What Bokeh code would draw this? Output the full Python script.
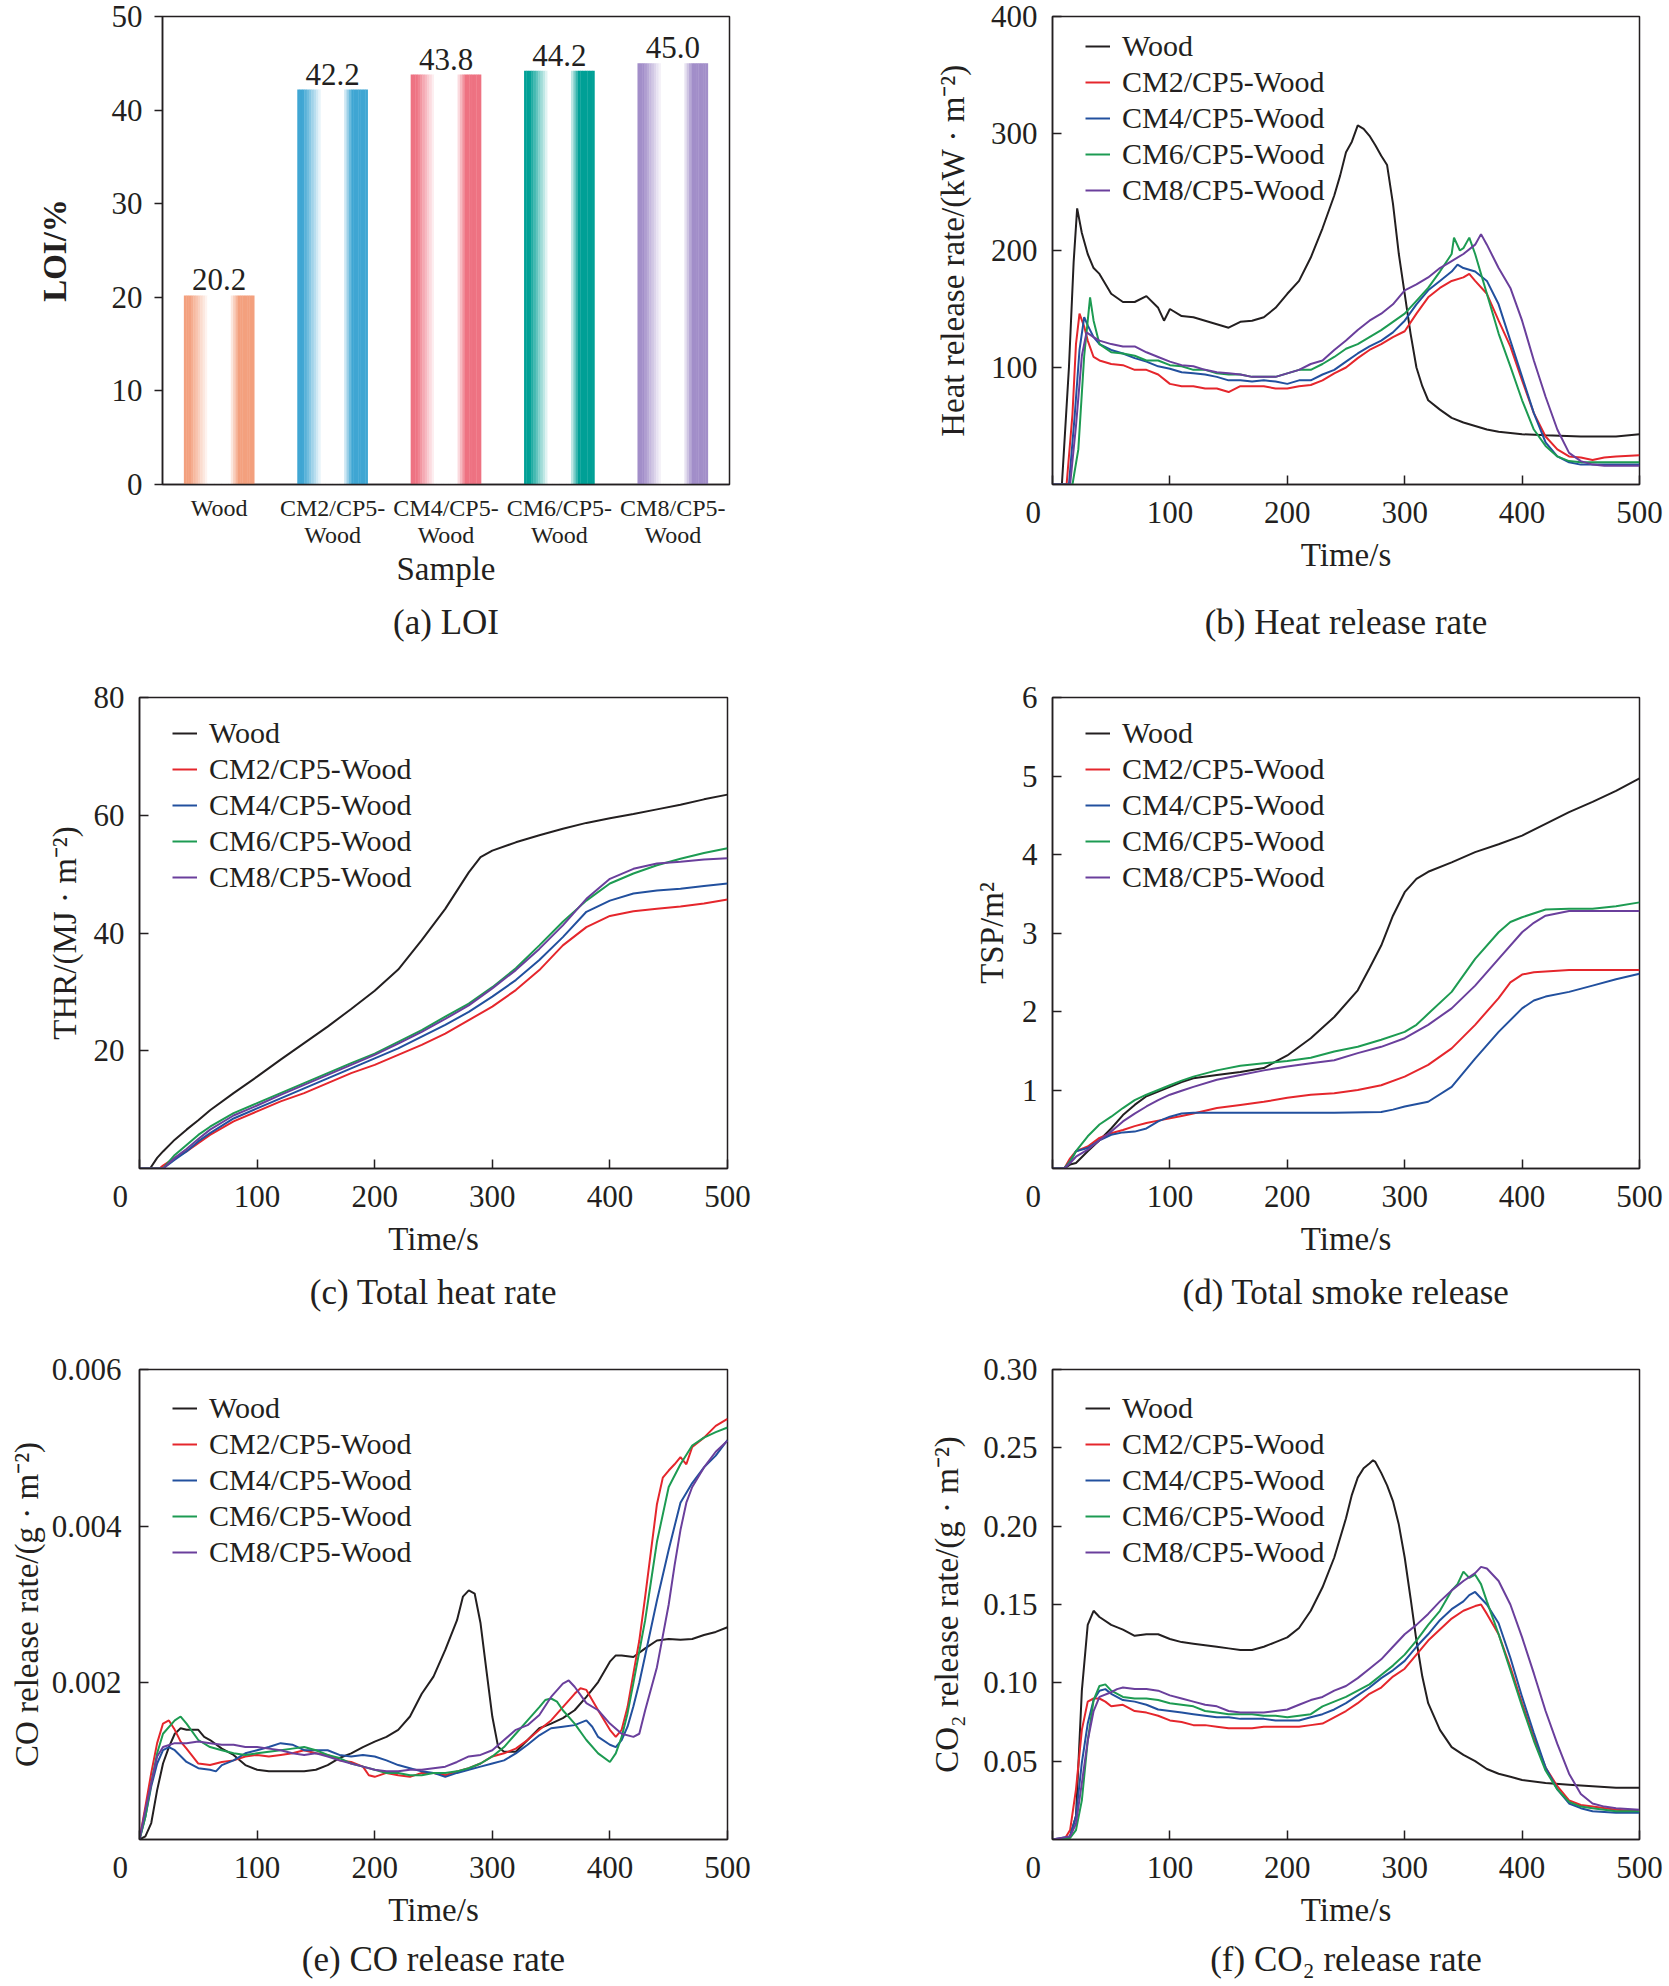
from bokeh.plotting import figure
from bokeh.models import (ColumnDataSource, FactorRange, Range1d, FixedTicker, LinearAxis,
                          NumeralTickFormatter, Legend, LegendItem)
from bokeh.transform import dodge
from bokeh.layouts import row, column
from bokeh.embed import file_html
from bokeh.resources import INLINE
from bokeh.core.properties import value

FONT = "Liberation Serif"
INK = "#231f20"

# ---------------- data ----------------
SAMPLES = ["Wood", "CM2/CP5-\nWood", "CM4/CP5-\nWood", "CM6/CP5-\nWood", "CM8/CP5-\nWood"]
LOI = [20.2, 42.2, 43.8, 44.2, 45.0]
BAR_COLORS = ["#f3a07e", "#3fa6d3", "#ee7282", "#00a096", "#a28ec9"]

SERIES_NAMES = ["Wood", "CM2/CP5-Wood", "CM4/CP5-Wood", "CM6/CP5-Wood", "CM8/CP5-Wood"]
LINE_COLORS = ["#231f20", "#e5262c", "#22509e", "#1d9b52", "#6a3f9c"]
TIME_TICKS = [0, 100, 200, 300, 400, 500]

# (b) heat release rate, (time s, kW/m2)
HRR_WOOD = [(0,0),(8,0),(14,100),(18,190),(21,236),(25,215),(30,197),(35,185),(40,180),(50,163),(60,156),(70,156),(80,161),(90,151),(95,140),(100,150),(110,144),(120,143),(130,140),(140,137),(150,134),(160,139),(170,140),(180,143),(190,151),(200,163),(210,174),(220,194),(230,219),(240,247),(245,264),(250,284),(255,293),(260,307),(265,304),(270,298),(275,290),(280,281),(285,273),(290,240),(295,197),(300,163),(305,129),(310,100),(315,84),(320,72),(330,64),(340,57),(350,53),(360,50),(370,47),(380,45),(390,44),(400,43),(420,42),(450,41),(480,41),(500,43)]
HRR_CM2 = [(0,0),(12,0),(17,60),(20,120),(23,146),(27,135),(30,123),(35,109),(40,106),(50,103),(60,102),(70,98),(80,98),(90,94),(100,86),(110,84),(120,84),(130,82),(140,82),(150,79),(160,84),(170,84),(180,84),(190,82),(200,82),(210,84),(220,85),(230,89),(240,95),(250,100),(260,108),(270,115),(280,120),(290,126),(300,131),(310,146),(320,160),(330,168),(340,174),(350,177),(355,180),(360,174),(370,163),(380,140),(390,118),(400,89),(410,61),(420,41),(430,30),(440,24),(450,23),(460,21),(470,23),(480,24),(500,25)]
HRR_CM4 = [(0,0),(14,0),(19,60),(23,115),(27,143),(30,136),(35,126),(40,120),(50,115),(60,112),(70,108),(80,105),(90,101),(100,99),(110,96),(120,95),(130,94),(140,92),(150,89),(160,89),(170,88),(180,89),(190,88),(200,86),(210,89),(220,89),(230,94),(240,98),(250,105),(260,112),(270,118),(280,123),(290,130),(300,140),(310,154),(320,166),(330,174),(340,182),(345,188),(350,185),(360,182),(370,174),(380,154),(390,123),(400,92),(410,61),(420,36),(430,24),(440,19),(450,17),(500,17)]
HRR_CM6 = [(0,0),(17,0),(22,30),(27,110),(32,160),(35,140),(40,120),(50,113),(60,112),(70,110),(80,106),(90,106),(100,102),(110,101),(120,98),(130,98),(140,95),(150,94),(160,94),(170,92),(180,92),(190,92),(200,95),(210,98),(220,98),(230,103),(240,109),(250,116),(260,120),(270,126),(280,132),(290,139),(300,146),(310,157),(320,168),(330,182),(340,197),(342,211),(347,200),(350,202),(355,211),(360,197),(370,163),(380,129),(390,101),(400,72),(410,47),(420,33),(430,24),(440,20),(450,19),(500,19)]
HRR_CM8 = [(0,0),(15,0),(20,50),(25,110),(29,130),(35,126),(40,123),(50,120),(60,118),(70,118),(80,113),(90,109),(100,105),(110,102),(120,101),(130,98),(140,96),(150,95),(160,94),(170,92),(180,92),(190,92),(200,95),(210,98),(220,103),(230,106),(240,115),(250,123),(260,132),(270,140),(280,146),(290,154),(300,166),(310,171),(320,177),(330,185),(340,191),(350,197),(360,205),(365,214),(370,205),(380,185),(390,168),(400,140),(410,106),(420,75),(430,47),(440,27),(450,20),(460,17),(470,16),(500,16)]

# (c) total heat release, MJ/m2
THR_WOOD = [(0,0),(9,0),(15,1.8),(20,2.9),(30,4.9),(40,6.6),(50,8.2),(60,9.9),(80,12.8),(100,15.6),(120,18.5),(140,21.3),(160,24.1),(180,27.1),(200,30.2),(220,33.8),(240,38.8),(260,44.1),(280,50.3),(290,52.9),(300,54.0),(320,55.4),(340,56.6),(360,57.7),(380,58.7),(400,59.5),(420,60.2),(440,61.0),(460,61.8),(480,62.7),(500,63.5)]
THR_CM2 = [(0,0),(17,0),(20,0.5),(30,1.8),(40,2.9),(50,4.3),(60,5.7),(80,8.0),(100,9.7),(120,11.4),(140,12.8),(160,14.5),(180,16.2),(200,17.6),(220,19.3),(240,21.0),(260,22.9),(280,25.2),(300,27.5),(320,30.3),(340,33.7),(360,37.9),(380,41.0),(400,42.9),(420,43.7),(440,44.1),(460,44.5),(480,45.0),(500,45.7)]
THR_CM4 = [(0,0),(20,0),(30,1.5),(40,2.9),(50,4.6),(60,6.0),(80,8.5),(100,10.2),(120,11.9),(140,13.6),(160,15.3),(180,17.0),(200,18.7),(220,20.4),(240,22.4),(260,24.4),(280,26.6),(300,29.2),(320,32.0),(340,35.4),(360,39.3),(380,43.6),(400,45.5),(420,46.7),(440,47.2),(460,47.5),(480,48.0),(500,48.4)]
THR_CM6 = [(0,0),(20,0),(30,2.3),(40,4.0),(50,5.7),(60,7.1),(80,9.4),(100,11.1),(120,12.8),(140,14.5),(160,16.2),(180,17.9),(200,19.5),(220,21.5),(240,23.5),(260,25.8),(280,28.0),(300,30.8),(320,34.0),(340,37.9),(360,41.9),(380,45.5),(400,48.4),(420,50.1),(440,51.5),(460,52.6),(480,53.6),(500,54.4)]
THR_CM8 = [(0,0),(20,0),(30,1.8),(40,3.3),(50,5.0),(60,6.6),(80,9.0),(100,10.7),(120,12.5),(140,14.2),(160,15.9),(180,17.6),(200,19.3),(220,21.2),(240,23.2),(260,25.4),(280,27.7),(300,30.6),(320,33.7),(340,37.3),(360,41.3),(380,45.8),(400,49.2),(420,50.9),(440,51.8),(460,52.1),(480,52.5),(500,52.7)]

# (d) total smoke production, m2
TSP_WOOD = [(0,0),(10,0),(15,0.05),(20,0.07),(30,0.22),(40,0.36),(50,0.51),(60,0.68),(70,0.81),(80,0.92),(90,0.98),(100,1.04),(110,1.10),(120,1.15),(140,1.19),(160,1.23),(180,1.28),(200,1.44),(220,1.66),(240,1.93),(260,2.27),(270,2.55),(280,2.84),(290,3.22),(300,3.52),(310,3.69),(320,3.78),(340,3.90),(360,4.03),(380,4.13),(400,4.24),(420,4.39),(440,4.54),(460,4.67),(480,4.81),(500,4.97)]
TSP_CM2 = [(0,0),(10,0),(15,0.13),(20,0.22),(30,0.28),(40,0.39),(50,0.45),(60,0.49),(70,0.54),(80,0.58),(90,0.61),(100,0.64),(110,0.67),(120,0.70),(140,0.77),(160,0.81),(180,0.85),(200,0.90),(220,0.94),(240,0.96),(260,1.00),(280,1.06),(300,1.17),(320,1.32),(340,1.53),(360,1.83),(380,2.17),(390,2.37),(400,2.47),(410,2.50),(420,2.51),(440,2.53),(460,2.53),(480,2.53),(500,2.53)]
TSP_CM4 = [(0,0),(10,0),(15,0.09),(20,0.22),(30,0.26),(40,0.36),(50,0.43),(60,0.46),(70,0.47),(80,0.51),(90,0.60),(100,0.66),(110,0.70),(120,0.71),(160,0.71),(200,0.71),(240,0.71),(280,0.72),(290,0.75),(300,0.79),(320,0.85),(340,1.04),(360,1.40),(380,1.74),(400,2.04),(410,2.14),(420,2.19),(440,2.25),(460,2.33),(480,2.41),(500,2.48)]
TSP_CM6 = [(0,0),(10,0),(15,0.09),(20,0.22),(30,0.41),(40,0.56),(50,0.66),(60,0.77),(70,0.87),(80,0.94),(90,1.00),(100,1.06),(110,1.12),(120,1.17),(140,1.25),(160,1.31),(180,1.34),(200,1.37),(220,1.41),(240,1.49),(260,1.55),(280,1.64),(300,1.74),(310,1.83),(320,1.97),(340,2.25),(360,2.67),(380,3.01),(390,3.14),(400,3.20),(420,3.30),(440,3.31),(460,3.31),(480,3.34),(500,3.39)]
TSP_CM8 = [(0,0),(10,0),(15,0.07),(20,0.15),(30,0.24),(40,0.36),(50,0.47),(60,0.60),(70,0.70),(80,0.79),(90,0.87),(100,0.94),(110,0.99),(120,1.04),(140,1.13),(160,1.19),(180,1.25),(200,1.30),(220,1.34),(240,1.38),(260,1.47),(280,1.55),(300,1.66),(320,1.83),(340,2.04),(360,2.33),(380,2.67),(400,3.01),(410,3.13),(420,3.22),(440,3.28),(460,3.28),(480,3.28),(500,3.28)]

# (e) CO release rate, g/m2
CO_WOOD = [(0,0),(5,0.00004),(10,0.00021),(15,0.00063),(20,0.00097),(25,0.00118),(30,0.00135),(35,0.00142),(40,0.00140),(50,0.00140),(55,0.00131),(60,0.00127),(70,0.00116),(80,0.00108),(90,0.00095),(100,0.00089),(110,0.00087),(120,0.00087),(130,0.00087),(140,0.00087),(150,0.00089),(160,0.00095),(170,0.00104),(180,0.00110),(190,0.00118),(200,0.00125),(210,0.00131),(220,0.00140),(230,0.00157),(240,0.00186),(250,0.00208),(260,0.00242),(270,0.00280),(275,0.00310),(280,0.00318),(285,0.00314),(290,0.00276),(295,0.00216),(300,0.00157),(305,0.00118),(310,0.00112),(320,0.00112),(330,0.00127),(340,0.00142),(350,0.00148),(360,0.00155),(370,0.00165),(380,0.00182),(390,0.00201),(400,0.00227),(405,0.00235),(410,0.00235),(420,0.00233),(430,0.00244),(440,0.00254),(450,0.00256),(460,0.00255),(470,0.00256),(480,0.00261),(490,0.00265),(500,0.00271)]
CO_CM2 = [(0,0),(5,0.00042),(10,0.00085),(15,0.00123),(20,0.00148),(25,0.00152),(30,0.00140),(35,0.00125),(40,0.00116),(50,0.00097),(60,0.00095),(70,0.00099),(80,0.00101),(90,0.00106),(100,0.00108),(110,0.00106),(120,0.00108),(130,0.00110),(140,0.00114),(150,0.00110),(160,0.00108),(170,0.00101),(180,0.00099),(190,0.00093),(195,0.00082),(200,0.00080),(210,0.00085),(220,0.00082),(230,0.00080),(240,0.00085),(250,0.00085),(260,0.00082),(270,0.00087),(280,0.00091),(290,0.00097),(300,0.00106),(310,0.00110),(320,0.00116),(330,0.00127),(340,0.00140),(350,0.00152),(360,0.00169),(370,0.00186),(375,0.00193),(380,0.00191),(390,0.00165),(400,0.00140),(405,0.00131),(410,0.00140),(415,0.00169),(420,0.00212),(425,0.00254),(430,0.00310),(435,0.00369),(440,0.00428),(445,0.00462),(450,0.00471),(455,0.00479),(460,0.00488),(465,0.00479),(470,0.00501),(480,0.00513),(490,0.00528),(500,0.00537)]
CO_CM4 = [(0,0),(5,0.00029),(10,0.00068),(15,0.00097),(20,0.00114),(25,0.00118),(30,0.00114),(40,0.00099),(50,0.00091),(60,0.00089),(65,0.00087),(70,0.00095),(80,0.00101),(90,0.00110),(100,0.00114),(110,0.00118),(120,0.00123),(130,0.00121),(140,0.00114),(150,0.00114),(160,0.00114),(170,0.00108),(180,0.00106),(190,0.00108),(200,0.00106),(210,0.00101),(220,0.00095),(230,0.00091),(240,0.00087),(250,0.00085),(260,0.00080),(270,0.00085),(280,0.00089),(290,0.00093),(300,0.00097),(310,0.00101),(320,0.00110),(330,0.00121),(340,0.00133),(350,0.00142),(360,0.00144),(370,0.00146),(380,0.00152),(385,0.00144),(390,0.00131),(400,0.00121),(405,0.00118),(410,0.00127),(415,0.00144),(420,0.00170),(425,0.00200),(430,0.00235),(435,0.00270),(440,0.00305),(450,0.00370),(460,0.00430),(470,0.00455),(480,0.00475),(490,0.00490),(500,0.00510)]
CO_CM6 = [(0,0),(5,0.00029),(10,0.00072),(15,0.00110),(20,0.00135),(30,0.00152),(35,0.00157),(40,0.00148),(50,0.00127),(60,0.00118),(70,0.00114),(80,0.00110),(90,0.00108),(100,0.00110),(110,0.00112),(120,0.00114),(130,0.00116),(140,0.00118),(150,0.00114),(160,0.00108),(170,0.00104),(180,0.00097),(190,0.00093),(200,0.00089),(210,0.00085),(220,0.00085),(230,0.00082),(240,0.00082),(250,0.00085),(260,0.00085),(270,0.00087),(280,0.00091),(290,0.00097),(300,0.00106),(310,0.00118),(320,0.00135),(330,0.00152),(340,0.00169),(345,0.00178),(350,0.00180),(355,0.00176),(360,0.00165),(370,0.00148),(380,0.00127),(390,0.00110),(400,0.00099),(405,0.00110),(410,0.00131),(415,0.00161),(420,0.00200),(425,0.00240),(430,0.00280),(435,0.00330),(440,0.00380),(450,0.00450),(460,0.00479),(470,0.00503),(480,0.00513),(490,0.00520),(500,0.00526)]
CO_CM8 = [(0,0),(5,0.00038),(10,0.00072),(15,0.00106),(20,0.00118),(30,0.00123),(40,0.00123),(50,0.00125),(60,0.00123),(70,0.00121),(80,0.00121),(90,0.00118),(100,0.00118),(110,0.00116),(120,0.00114),(130,0.00110),(140,0.00108),(150,0.00110),(160,0.00106),(170,0.00101),(180,0.00097),(190,0.00093),(200,0.00089),(210,0.00087),(220,0.00087),(230,0.00089),(240,0.00089),(250,0.00091),(260,0.00093),(270,0.00099),(280,0.00106),(290,0.00108),(300,0.00114),(310,0.00127),(320,0.00140),(330,0.00146),(340,0.00159),(350,0.00182),(360,0.00199),(365,0.00203),(370,0.00195),(380,0.00174),(390,0.00165),(400,0.00148),(410,0.00135),(420,0.00131),(425,0.00135),(430,0.00165),(440,0.00220),(445,0.00260),(450,0.00300),(455,0.00350),(460,0.00395),(465,0.00430),(470,0.00450),(480,0.00475),(490,0.00495),(500,0.00509)]

# (f) CO2 release rate, g/m2
CO2_WOOD = [(0,0),(10,0),(15,0.002),(20,0.015),(25,0.095),(30,0.137),(35,0.146),(40,0.142),(50,0.137),(60,0.134),(70,0.130),(80,0.131),(90,0.131),(100,0.128),(110,0.126),(120,0.125),(130,0.124),(140,0.123),(150,0.122),(160,0.121),(170,0.121),(180,0.123),(190,0.126),(200,0.129),(210,0.135),(220,0.146),(230,0.161),(240,0.180),(250,0.205),(255,0.220),(260,0.231),(265,0.237),(270,0.240),(273,0.242),(275,0.241),(280,0.234),(285,0.226),(290,0.216),(295,0.201),(300,0.180),(305,0.154),(310,0.127),(315,0.104),(320,0.087),(330,0.070),(340,0.059),(350,0.054),(360,0.050),(370,0.045),(380,0.042),(390,0.040),(400,0.038),(420,0.036),(440,0.035),(460,0.034),(480,0.033),(500,0.033)]
CO2_CM2 = [(0,0),(10,0),(15,0.006),(20,0.032),(25,0.070),(30,0.088),(35,0.090),(40,0.090),(45,0.088),(50,0.085),(60,0.086),(70,0.082),(80,0.081),(90,0.079),(100,0.076),(110,0.075),(120,0.073),(130,0.073),(140,0.072),(150,0.071),(160,0.071),(170,0.071),(180,0.072),(190,0.072),(200,0.072),(210,0.072),(220,0.073),(230,0.074),(240,0.078),(250,0.082),(260,0.087),(270,0.093),(280,0.097),(290,0.104),(300,0.109),(310,0.118),(320,0.127),(330,0.134),(340,0.141),(350,0.146),(360,0.149),(365,0.150),(370,0.144),(380,0.131),(390,0.110),(400,0.087),(410,0.065),(420,0.046),(430,0.034),(440,0.025),(450,0.022),(460,0.021),(480,0.019),(500,0.018)]
CO2_CM4 = [(0,0),(15,0.002),(20,0.015),(25,0.049),(30,0.074),(35,0.089),(40,0.095),(45,0.096),(50,0.093),(60,0.089),(70,0.088),(80,0.086),(90,0.083),(100,0.082),(110,0.081),(120,0.080),(130,0.079),(140,0.078),(150,0.078),(160,0.077),(170,0.077),(180,0.077),(190,0.076),(200,0.076),(210,0.076),(220,0.078),(230,0.080),(240,0.083),(250,0.087),(260,0.092),(270,0.097),(280,0.103),(290,0.108),(300,0.114),(310,0.123),(320,0.131),(330,0.140),(340,0.147),(350,0.152),(355,0.156),(360,0.158),(365,0.154),(370,0.150),(380,0.138),(390,0.116),(400,0.091),(410,0.068),(420,0.046),(430,0.032),(440,0.023),(450,0.020),(460,0.018),(480,0.017),(500,0.017)]
CO2_CM6 = [(0,0),(15,0.001),(20,0.006),(25,0.025),(30,0.063),(35,0.089),(40,0.098),(45,0.099),(50,0.095),(60,0.091),(70,0.090),(80,0.090),(90,0.089),(100,0.087),(110,0.086),(120,0.085),(130,0.082),(140,0.081),(150,0.080),(160,0.080),(170,0.080),(180,0.079),(190,0.079),(200,0.078),(210,0.079),(220,0.080),(230,0.085),(240,0.088),(250,0.091),(260,0.095),(270,0.099),(280,0.105),(290,0.111),(300,0.118),(310,0.127),(320,0.137),(330,0.146),(340,0.159),(345,0.163),(350,0.171),(355,0.167),(360,0.169),(365,0.163),(370,0.152),(380,0.131),(390,0.108),(400,0.085),(410,0.063),(420,0.044),(430,0.032),(440,0.024),(450,0.021),(460,0.020),(480,0.018),(500,0.018)]
CO2_CM8 = [(0,0),(15,0.002),(20,0.010),(25,0.036),(30,0.063),(35,0.082),(40,0.091),(50,0.094),(55,0.096),(60,0.097),(70,0.096),(80,0.096),(90,0.095),(100,0.092),(110,0.090),(120,0.088),(130,0.086),(140,0.085),(150,0.082),(160,0.081),(170,0.081),(180,0.081),(190,0.082),(200,0.083),(210,0.086),(220,0.089),(230,0.091),(240,0.095),(250,0.098),(260,0.103),(270,0.109),(280,0.115),(290,0.123),(300,0.131),(310,0.137),(320,0.144),(330,0.152),(340,0.159),(350,0.165),(360,0.170),(365,0.174),(370,0.173),(380,0.165),(390,0.150),(400,0.129),(410,0.106),(420,0.082),(430,0.061),(440,0.042),(450,0.029),(460,0.023),(470,0.021),(480,0.020),(500,0.019)]


# ---------------- helpers ----------------
def mix_white(hex_color, t):
    r, g, b = (int(hex_color[i:i + 2], 16) for i in (1, 3, 5))
    r = round(r + (255 - r) * t)
    g = round(g + (255 - g) * t)
    b = round(b + (255 - b) * t)
    return "#%02x%02x%02x" % (r, g, b)


def whiteness(u):
    # cylinder-like shading: coloured edges, white core
    if u < 0.08:
        return 0.0
    if u < 0.35:
        return (u - 0.08) / 0.27
    if u < 0.65:
        return 1.0
    if u < 0.78:
        return 1.0 - (u - 0.65) / 0.13
    return 0.0


def style_common(p):
    p.background_fill_color = "white"
    p.border_fill_color = "white"
    p.outline_line_color = INK
    p.outline_line_width = 1.5
    p.xgrid.visible = False
    p.ygrid.visible = False
    for ax in p.axis:
        ax.axis_line_color = INK
        ax.axis_line_width = 1.5
        ax.major_tick_line_color = INK
        ax.major_tick_line_width = 1.5
        ax.minor_tick_line_color = None
        ax.major_label_text_font = FONT
        ax.major_label_text_font_size = "31px"
        ax.major_label_text_color = INK
        ax.axis_label_text_font = FONT
        ax.axis_label_text_font_size = "33px"
        ax.axis_label_text_font_style = "normal"
        ax.axis_label_text_color = INK


def add_caption(p, text, gap):
    # caption drawn as the label of a bare second axis below the first one
    cap = LinearAxis(ticker=FixedTicker(ticks=[]), axis_label=text,
                     axis_label_standoff=gap, axis_line_color=None,
                     major_tick_line_color=None, minor_tick_line_color=None,
                     major_label_text_font_size="0px",
                     axis_label_text_font=FONT, axis_label_text_font_size="35px",
                     axis_label_text_font_style="normal", axis_label_text_color=INK)
    p.add_layout(cap, "below")


def line_fig(series, ylabel, ymax, yticks, yfmt, caption, w, h, bl, br, bt, bb,
             ylab_standoff, cap_gap, legend_top, ytick_standoff=15):
    p = figure(width=w, height=h, x_range=Range1d(0, 500), y_range=Range1d(0, ymax),
               output_backend="svg", toolbar_location=None,
               min_border_left=bl, min_border_right=br, min_border_top=bt, min_border_bottom=bb)
    items = []
    for name, color, pairs in zip(SERIES_NAMES, LINE_COLORS, series):
        t = [a for a, _ in pairs]
        v = [b for _, b in pairs]
        r = p.line(t, v, line_color=color, line_width=2)
        items.append(LegendItem(label=name, renderers=[r]))
    style_common(p)
    p.xaxis.ticker = FixedTicker(ticks=TIME_TICKS)
    # the origin "0" sits left of the corner in the reference
    p.xaxis.major_label_overrides = {0: "0" + "\u00a0" * 5}
    p.yaxis.ticker = FixedTicker(ticks=yticks)
    if yfmt:
        p.yaxis.formatter = NumeralTickFormatter(format=yfmt)
    for ax in p.axis:
        ax.major_tick_in = 9
        ax.major_tick_out = 0
    p.xaxis.major_label_standoff = 10
    p.yaxis.major_label_standoff = ytick_standoff
    p.xaxis.axis_label = "Time/s"
    p.xaxis.axis_label_standoff = 4
    p.yaxis.axis_label = ylabel
    p.yaxis.axis_label_standoff = ylab_standoff

    frame_h = h - bt - bb
    legend = Legend(items=items, location=(33, frame_h - legend_top - 180),
                    label_text_font=FONT, label_text_font_size="30px", label_text_color=INK,
                    glyph_width=25, glyph_height=36, label_height=36, label_standoff=12,
                    spacing=0, padding=0, margin=0,
                    background_fill_alpha=0, border_line_alpha=0)
    p.add_layout(legend)
    add_caption(p, caption, cap_gap)
    return p


# ---------------- layout sizes ----------------
W1, W2 = 835, 832
H1, H2, H3 = 672, 665, 649

# ---------------- (a) LOI bars ----------------
pa = figure(width=W1, height=H1, x_range=FactorRange(factors=SAMPLES), y_range=Range1d(0, 50),
            output_backend="svg", toolbar_location=None,
            min_border_left=162, min_border_right=106, min_border_top=16, min_border_bottom=188)
N_SLICE = 30
BAR_W = 0.62
bar_data = dict(cat=SAMPLES, val=LOI, lab=["%.1f" % v for v in LOI])
for k in range(N_SLICE):
    u = (k + 0.5) / N_SLICE
    bar_data["c%d" % k] = [mix_white(c, whiteness(u)) for c in BAR_COLORS]
src = ColumnDataSource(bar_data)
for k in range(N_SLICE):
    off = ((k + 0.5) / N_SLICE - 0.5) * BAR_W
    pa.vbar(x=dodge("cat", off, range=pa.x_range), top="val", bottom=0,
            width=BAR_W / N_SLICE * 1.15, fill_color="c%d" % k, line_color=None, source=src)
pa.text(x="cat", y="val", text="lab", source=src, y_offset=-5, text_align="center",
        text_baseline="bottom", text_font=value(FONT), text_font_size="31px", text_color=INK)
style_common(pa)
pa.yaxis.ticker = FixedTicker(ticks=[0, 10, 20, 30, 40, 50])
pa.yaxis.major_tick_out = 8
pa.yaxis.major_tick_in = 0
pa.yaxis.major_label_standoff = 12
pa.yaxis.axis_label = "LOI/%"
pa.yaxis.axis_label_text_font_style = "bold"
pa.yaxis.axis_label_standoff = 36
pa.xaxis.major_tick_line_color = None
pa.xaxis.major_tick_out = 0
pa.xaxis.major_label_text_font_size = "24px"
pa.xaxis.major_label_text_line_height = 1.05
pa.xaxis.major_label_standoff = 10
pa.xaxis.axis_label = "Sample"
pa.xaxis.axis_label_standoff = 0
add_caption(pa, "(a) LOI", 13)

# ---------------- line panels ----------------
pb = line_fig([HRR_WOOD, HRR_CM2, HRR_CM4, HRR_CM6, HRR_CM8],
              "Heat release rate/(kW · m⁻²)", 400, [100, 200, 300, 400], None,
              "(b) Heat release rate", W2, H1, 217, 28, 16, 188, 17, 27, 12)
pc = line_fig([THR_WOOD, THR_CM2, THR_CM4, THR_CM6, THR_CM8],
              "THR/(MJ · m⁻²)", 80, [20, 40, 60, 80], None,
              "(c) Total heat rate", W1, H2, 139, 108, 25, 169, 8, 13, 18)
pd_ = line_fig([TSP_WOOD, TSP_CM2, TSP_CM4, TSP_CM6, TSP_CM8],
               "TSP/m²", 6, [1, 2, 3, 4, 5, 6], None,
               "(d) Total smoke release", W2, H2, 217, 28, 25, 169, 9, 13, 18)
pe = line_fig([CO_WOOD, CO_CM2, CO_CM4, CO_CM6, CO_CM8],
              "CO release rate/(g · m⁻²)", 0.006, [0.002, 0.004, 0.006], "0.000",
              "(e) CO release rate", W1, H3, 139, 108, 32, 147, 4, 9, 21, ytick_standoff=18)
pf = line_fig([CO2_WOOD, CO2_CM2, CO2_CM4, CO2_CM6, CO2_CM8],
              "CO₂ release rate/(g · m⁻²)", 0.30, [0.05, 0.10, 0.15, 0.20, 0.25, 0.30], "0.00",
              "(f) CO₂ release rate", W2, H3, 217, 28, 32, 147, 15, 9, 21)

layout = column(row(pa, pb), row(pc, pd_), row(pe, pf))
open("out.html", "w").write(file_html(layout, INLINE))
